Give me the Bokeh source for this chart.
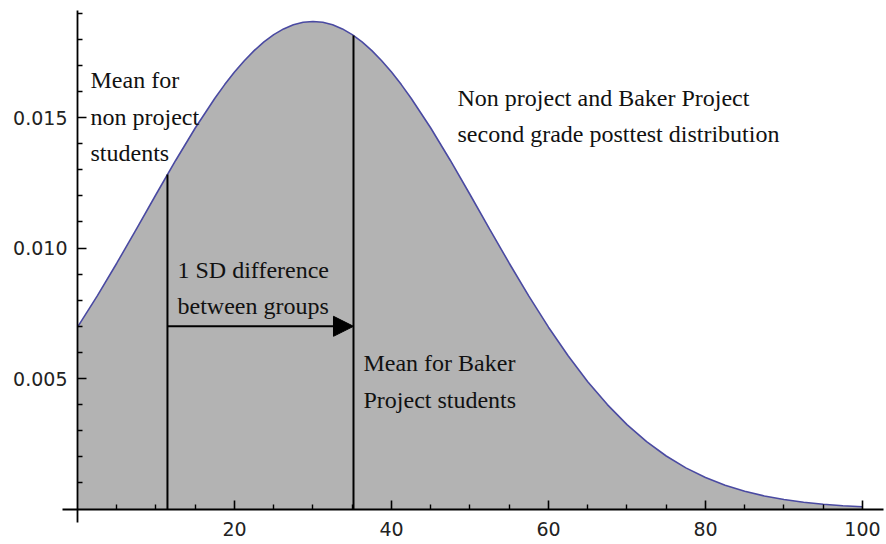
from bokeh.plotting import figure
from bokeh.models import FixedTicker, Range1d, Arrow, NormalHead, ColumnDataSource
from bokeh.core.properties import value
from bokeh.embed import file_html
from bokeh.resources import INLINE
import numpy as np

# ---- data ----
score = [0, 2.5, 5, 7.5, 10, 12.5, 15, 17.5, 18.75, 20, 21.25, 22.5, 23.75, 25, 26.25,
         27.5, 28.75, 30, 31.25, 32.5, 33.75, 35, 36.25, 37.5, 38.75, 40, 41.25, 42.5,
         45, 47.5, 50, 52.5, 55, 57.5, 60, 62.5, 65, 67.5, 70, 72.5, 75,
         77.5, 80, 82.5, 85, 87.5, 90, 92.5, 95, 97.5, 100]
density = [0.006966, 0.008156, 0.009417, 0.010726, 0.012050, 0.013354, 0.014598,
           0.015740, 0.016261, 0.016741, 0.017177, 0.017563, 0.017897, 0.018176,
           0.018394, 0.018553, 0.018648, 0.018680, 0.018648, 0.018553, 0.018394,
           0.018176, 0.017897, 0.017563, 0.017177, 0.016741, 0.016261, 0.015740,
           0.014598, 0.013354, 0.012050,
           0.010726, 0.009417, 0.008156, 0.006966, 0.005871, 0.004879, 0.004001,
           0.003235, 0.002580, 0.002031, 0.001576, 0.001207, 0.000911, 0.000679,
           0.000499, 0.000361, 0.000258, 0.000182, 0.000127, 0.000087]
non_project_mean = 11.46
baker_mean = 35.16
arrow_level = 0.0070

x_major = [20, 40, 60, 80, 100]
x_minor = [5, 10, 15, 25, 30, 35, 45, 50, 55, 65, 70, 75, 85, 90, 95]
y_major = [0.005, 0.010, 0.015]
y_minor = [0.001, 0.002, 0.003, 0.004, 0.006, 0.007, 0.008, 0.009, 0.011, 0.012,
           0.013, 0.014, 0.016, 0.017, 0.018, 0.019]
y_labels = {0.005: "0.005", 0.010: "0.010", 0.015: "0.015"}

notes = [
    ("Mean for", 1.66, 0.016418),
    ("non project", 1.66, 0.015038),
    ("students", 1.66, 0.013659),
    ("Non project and Baker Project", 48.41, 0.015766),
    ("second grade posttest distribution", 48.41, 0.014387),
    ("1 SD difference", 12.74, 0.009176),
    ("between groups", 12.74, 0.007797),
    ("Mean for Baker", 36.43, 0.005575),
    ("Project students", 36.43, 0.004195),
]

# ---- figure ----
p = figure(width=886, height=544, output_backend="svg", toolbar_location=None,
           x_range=Range1d(-9.809, 103.06), y_range=Range1d(-0.001360, 0.019483),
           min_border_left=0, min_border_right=0, min_border_top=0, min_border_bottom=0)
p.outline_line_color = None
p.xgrid.visible = False
p.ygrid.visible = False
p.background_fill_color = "white"
p.border_fill_color = "white"

p.varea(x=score, y1=[0] * len(score), y2=density, fill_color="#b3b3b3")
p.line(x=score, y=density, line_color="#4a4aa2", line_width=1.6)

xs = np.array(score)
ys = np.array(density)
tops = [float(np.interp(non_project_mean, xs, ys)), float(np.interp(baker_mean, xs, ys))]
p.segment(x0=[non_project_mean, baker_mean], y0=[0, 0],
          x1=[non_project_mean, baker_mean], y1=tops, line_color="black", line_width=2)

p.add_layout(Arrow(end=NormalHead(size=20, fill_color="black", line_color="black"),
                   x_start=non_project_mean, y_start=arrow_level,
                   x_end=baker_mean, y_end=arrow_level,
                   line_color="black", line_width=2))

src = ColumnDataSource(dict(t=[n[0] for n in notes], x=[n[1] for n in notes],
                            y=[n[2] for n in notes]))
p.text(x="x", y="y", text="t", source=src, text_font=value("Liberation Serif"),
       text_font_size="24px", text_color="#111111", text_baseline="alphabetic",
       text_align="left")

# ---- axes crossing at origin ----
for ax in (p.xaxis[0], p.yaxis[0]):
    ax.fixed_location = 0
    ax.axis_line_color = "black"
    ax.axis_line_width = 1.8
    ax.major_tick_line_color = "black"
    ax.minor_tick_line_color = "black"
    ax.major_tick_line_width = 1.6
    ax.minor_tick_line_width = 1.4
    ax.major_tick_in = 9
    ax.major_tick_out = 0
    ax.minor_tick_in = 5
    ax.minor_tick_out = 0
    ax.major_label_text_font = "DejaVu Sans"
    ax.major_label_text_font_size = "19px"
    ax.major_label_text_color = "#222222"

p.xaxis[0].bounds = (-1.91, 102.7)
p.yaxis[0].bounds = (-0.0005, 0.0191)
p.xaxis[0].ticker = FixedTicker(ticks=x_major, minor_ticks=x_minor)
p.xaxis[0].major_label_standoff = 13
p.yaxis[0].ticker = FixedTicker(ticks=y_major, minor_ticks=y_minor)
p.yaxis[0].major_label_overrides = y_labels
p.yaxis[0].major_label_standoff = 10

open("out.html", "w").write(file_html(p, INLINE))
